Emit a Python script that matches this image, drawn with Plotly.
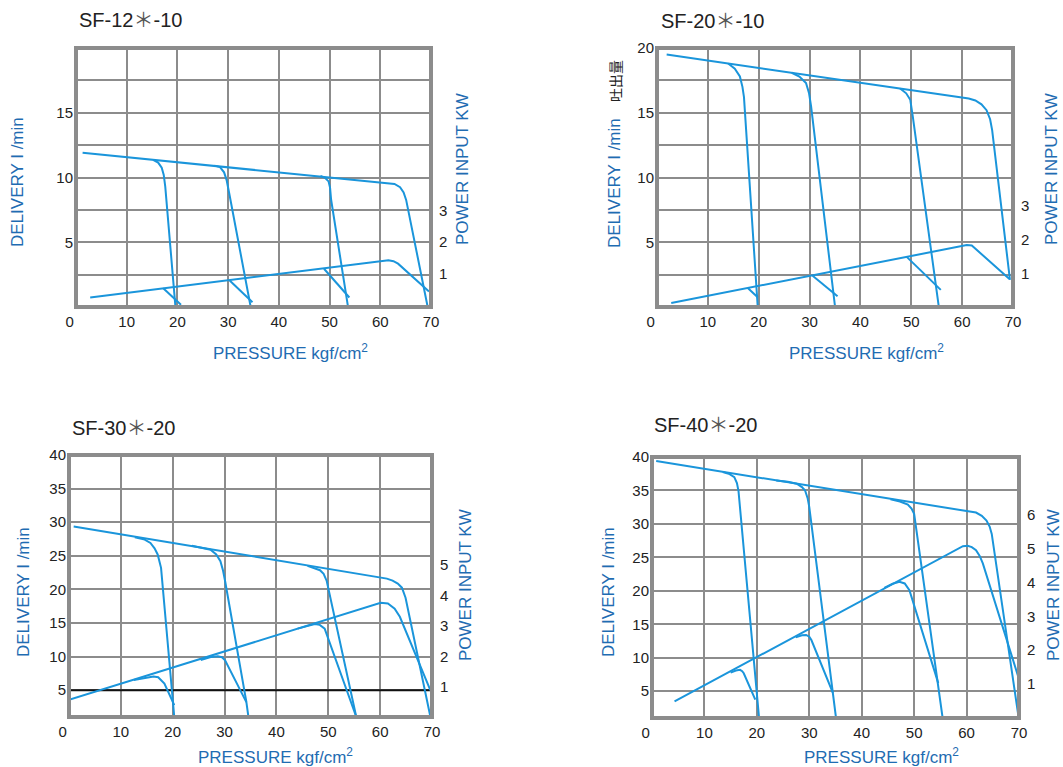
import plotly.graph_objects as go

W, H = 1063, 767

# ------------------------------------------------------------------ data
PRESSURE_TICKS = [0, 10, 20, 30, 40, 50, 60, 70]
PRESSURE_LABELS = ["0\u00a0\u00a0\u00a0", "10", "20", "30", "40", "50", "60", "70"]
TITLES = ["SF-12＊-10", "SF-20＊-10", "SF-30＊-20", "SF-40＊-20"]

# SF-12*-10  (delivery l/min, power kW)
SF12_DELIV_X = [
    [1.3, 61.4, 62.8, 63.9, 64.6, 65.1, 69.3],
    [15.2, 16.2, 16.9, 17.3, 17.6, 19.6],
    [27.3, 28.4, 29.2, 29.7, 30.2, 34.4],
    [48.2, 49.1, 49.8, 50.1, 50.3, 53.6],
]
SF12_DELIV_Y = [
    [11.91, 9.6, 9.5, 9.25, 8.85, 8.27, 0.1],
    [11.36, 11.15, 10.75, 10.2, 9.3, 0.05],
    [10.92, 10.8, 10.4, 9.8, 8.8, 0.1],
    [10.12, 9.98, 9.7, 9.2, 8.3, 0.1],
]
SF12_POWER_X = [
    [2.8, 60.6, 61.6, 62.6, 63.5, 69.6],
    [17.2, 20.7],
    [30.3, 34.8],
    [48.9, 53.9],
]
SF12_POWER_Y = [
    [0.25, 1.41, 1.43, 1.40, 1.32, 0.44],
    [0.54, 0.02],
    [0.79, 0.10],
    [1.16, 0.25],
]

# SF-20*-10
SF20_DELIV_X = [
    [1.9, 61.3, 62.6, 63.8, 64.8, 65.5, 65.9, 69.4],
    [14.0, 15.3, 16.3, 16.8, 17.1, 19.8],
    [26.5, 28.0, 29.3, 29.9, 30.3, 35.0],
    [47.8, 49.0, 49.8, 50.1, 50.3, 55.4],
]
SF20_DELIV_Y = [
    [19.49, 16.1, 15.95, 15.65, 15.2, 14.5, 13.66, 2.1],
    [18.8, 18.4, 17.8, 17.0, 16.2, 0.05],
    [18.09, 17.8, 17.3, 16.5, 15.5, 0.05],
    [16.87, 16.5, 16.0, 15.4, 14.7, 0.05],
]
SF20_POWER_X = [
    [2.8, 60.0, 60.9, 61.9, 69.3],
    [17.9, 19.8],
    [30.6, 35.5],
    [49.1, 55.8],
]
SF20_POWER_Y = [
    [0.12, 1.81, 1.84, 1.83, 0.83],
    [0.56, 0.29],
    [0.93, 0.32],
    [1.49, 0.51],
]

# SF-30*-20
SF30_DELIV_X = [
    [0.9, 60.1, 61.3, 62.4, 63.4, 64.2, 64.6, 64.9, 69.7],
    [12.7, 14.6, 15.7, 16.5, 17.1, 17.5, 17.75, 20.1, 20.3],
    [23.7, 25.8, 27.3, 28.4, 29.2, 29.7, 30.1, 34.2, 34.6],
    [46.0, 47.5, 48.4, 49.1, 49.5, 49.7, 55.4],
]
SF30_DELIV_Y = [
    [29.35, 21.75, 21.6, 21.3, 20.85, 20.25, 19.5, 18.75, 1.0],
    [27.75, 27.4, 26.9, 26.1, 25.2, 24.0, 23.2, 2.75, 1.0],
    [26.5, 26.2, 25.9, 25.2, 24.2, 22.8, 21.25, 3.25, 1.0],
    [23.5, 23.15, 22.85, 22.3, 21.6, 21.25, 1.0],
]
SF30_POWER_X = [
    [0.0, 58.5, 60.1, 61.5, 62.8, 63.8, 69.7],
    [12.5, 15.0, 16.3, 17.2, 17.8, 18.4, 20.3],
    [25.4, 27.5, 28.7, 29.5, 30.1, 34.2],
    [44.1, 46.3, 47.4, 48.3, 48.9, 49.3, 55.3],
]
SF30_POWER_Y = [
    [0.57, 3.68, 3.76, 3.74, 3.57, 3.30, 0.88],
    [1.22, 1.30, 1.33, 1.31, 1.22, 1.10, 0.39],
    [1.88, 1.98, 2.00, 1.97, 1.87, 0.49],
    [2.91, 3.02, 3.06, 3.04, 2.97, 2.91, 0.05],
]
SF30_LIMIT_X = [0, 70]
SF30_LIMIT_Y = [5, 5]

# SF-40*-20
SF40_DELIV_X = [
    [0.8, 60.0, 61.0, 61.8, 62.9, 63.8, 64.4, 64.8, 69.9],
    [13.5, 14.8, 15.7, 16.2, 16.5, 20.4],
    [23.7, 25.9, 27.6, 28.6, 29.2, 29.7, 30.0, 35.1],
    [45.5, 47.3, 48.8, 49.5, 50.0, 55.4],
]
SF40_DELIV_Y = [
    [39.4, 32.0, 31.85, 31.7, 31.2, 30.5, 29.6, 28.5, 1.2],
    [37.75, 37.45, 37.0, 36.1, 34.9, 1.2],
    [36.5, 36.3, 36.0, 35.5, 35.0, 33.8, 32.5, 1.0],
    [33.7, 33.35, 32.9, 32.3, 31.5, 1.2],
]
SF40_POWER_X = [
    [4.3, 58.3, 59.3, 60.2, 61.0, 61.8, 62.5, 63.1, 69.8],
    [15.0, 16.0, 16.8, 17.2, 17.5, 19.7],
    [27.4, 28.6, 29.4, 30.0, 30.4, 34.5],
    [44.3, 45.9, 47.2, 48.2, 49.1, 54.6],
]
SF40_POWER_Y = [
    [0.49, 5.00, 5.07, 5.08, 5.04, 4.95, 4.78, 4.56, 1.25],
    [1.34, 1.40, 1.42, 1.38, 1.32, 0.54],
    [2.38, 2.44, 2.45, 2.40, 2.30, 0.74],
    [3.84, 3.96, 4.02, 3.97, 3.77, 1.03],
]

# ------------------------------------------------------------------ style
CURVE = "#1a95db"
LABEL_BLUE = "#1f6cb2"
GRID = "#8c8c8c"
TXT = "#222222"
FONT = "Liberation Sans, Arial, Noto Sans CJK JP, sans-serif"


def px_x(p):
    return p / W


def px_y(p):
    return 1 - p / H


def title_text(t):
    return t.replace("＊", "<span style=\"color:#555555\">＊</span>")


panels = [
    dict(title=TITLES[0], box=(76, 431, 48, 307),
         dx=SF12_DELIV_X, dy=SF12_DELIV_Y, px=SF12_POWER_X, py=SF12_POWER_Y,
         yrange=[0, 20], yvals=[5, 10, 15], ytext=["5", "10", "15"], ydt=2.5,
         y2range=[-0.05, 8.14], y2vals=[1, 2, 3],
         title_xy=(130, 20), deliv_xy=(17, 182), power_xy=(463, 169),
         press_xy=(290, 352)),
    dict(title=TITLES[1], box=(657, 1013, 48, 307),
         dx=SF20_DELIV_X, dy=SF20_DELIV_Y, px=SF20_POWER_X, py=SF20_POWER_Y,
         yrange=[0, 20], yvals=[5, 10, 15, 20], ytext=["5", "10", "15", "20"],
         ydt=2.5, y2range=[0, 7.7], y2vals=[1, 2, 3],
         title_xy=(712, 21), deliv_xy=(614, 183), power_xy=(1052, 169),
         press_xy=(866, 352)),
    dict(title=TITLES[2], box=(69, 432, 455, 717),
         dx=SF30_DELIV_X, dy=SF30_DELIV_Y, px=SF30_POWER_X, py=SF30_POWER_Y,
         yrange=[1, 40], yvals=[5, 10, 15, 20, 25, 30, 35, 40],
         ytext=["5", "10", "15", "20", "25", "30", "35", "40"], ydt=5,
         y2range=[0, 8.63], y2vals=[1, 2, 3, 4, 5],
         title_xy=(123, 428), deliv_xy=(23, 592), power_xy=(465, 585),
         press_xy=(275, 756)),
    dict(title=TITLES[3], box=(652, 1019, 457, 718),
         dx=SF40_DELIV_X, dy=SF40_DELIV_Y, px=SF40_POWER_X, py=SF40_POWER_Y,
         yrange=[1, 40], yvals=[5, 10, 15, 20, 25, 30, 35, 40],
         ytext=["5", "10", "15", "20", "25", "30", "35", "40"], ydt=5,
         y2range=[0, 7.7], y2vals=[1, 2, 3, 4, 5, 6],
         title_xy=(705, 425), deliv_xy=(608, 592), power_xy=(1053, 585),
         press_xy=(881, 756)),
]

fig = go.Figure()
layout = {}
annotations = []
shapes = []

for i, p in enumerate(panels):
    xn = "" if i == 0 else str(i + 1)
    yn = "" if i == 0 else str(2 * i + 1)
    y2n = str(2 * i + 2)
    x0, x1, ytop, ybot = p["box"]

    layout["xaxis" + xn] = dict(
        domain=[px_x(x0), px_x(x1)], range=[0, 70], anchor="y" + yn,
        tickvals=PRESSURE_TICKS, ticktext=PRESSURE_LABELS,
        showgrid=True, gridcolor=GRID, gridwidth=2, zeroline=False,
        showline=False, ticks="", ticklabelstandoff=4, automargin=False,
        tickfont=dict(size=15, color=TXT, family=FONT), fixedrange=True,
    )
    layout["yaxis" + yn] = dict(
        domain=[px_y(ybot), px_y(ytop)], range=p["yrange"], anchor="x" + xn,
        tickvals=p["yvals"], ticktext=p["ytext"],
        showgrid=True, gridcolor=GRID, gridwidth=2, zeroline=False,
        minor=dict(dtick=p["ydt"], tick0=0, showgrid=True, gridcolor=GRID,
                   gridwidth=2, ticks=""),
        showline=False, ticks="", ticklabelstandoff=2, automargin=False,
        tickfont=dict(size=15, color=TXT, family=FONT), fixedrange=True,
    )
    layout["yaxis" + y2n] = dict(
        domain=[px_y(ybot), px_y(ytop)], range=p["y2range"],
        overlaying="y" + yn, side="right", anchor="x" + xn,
        tickvals=p["y2vals"], ticktext=[str(v) for v in p["y2vals"]],
        showgrid=False, zeroline=False, showline=False, ticks="",
        ticklabelstandoff=7, automargin=False,
        tickfont=dict(size=15, color=TXT, family=FONT), fixedrange=True,
    )

    # plot frame, centred on the domain edges
    shapes.append(dict(
        type="rect", xref="x" + xn + " domain", yref="y" + yn + " domain",
        x0=0, x1=1, y0=0, y1=1, line=dict(color=GRID, width=4),
        fillcolor="rgba(0,0,0,0)", layer="above"))

    if i == 2:
        fig.add_trace(go.Scatter(
            x=SF30_LIMIT_X, y=SF30_LIMIT_Y, mode="lines",
            line=dict(color="#111111", width=2),
            xaxis="x" + xn, yaxis="y" + yn, showlegend=False, hoverinfo="skip"))

    for xs, ys in zip(p["dx"], p["dy"]):
        fig.add_trace(go.Scatter(
            x=xs, y=ys, mode="lines", line=dict(color=CURVE, width=2),
            xaxis="x" + xn, yaxis="y" + yn, showlegend=False, hoverinfo="skip"))
    for xs, ys in zip(p["px"], p["py"]):
        fig.add_trace(go.Scatter(
            x=xs, y=ys, mode="lines", line=dict(color=CURVE, width=2),
            xaxis="x" + xn, yaxis="y" + y2n, showlegend=False, hoverinfo="skip"))

    tx, ty = p["title_xy"]
    annotations.append(dict(
        text=title_text(p["title"]), x=px_x(tx), y=px_y(ty), xref="paper",
        yref="paper", xanchor="center", yanchor="middle", showarrow=False,
        font=dict(size=20, color=TXT, family=FONT)))
    dxp, dyp = p["deliv_xy"]
    annotations.append(dict(
        text="DELIVERY I /min", x=px_x(dxp), y=px_y(dyp), xref="paper",
        yref="paper", xanchor="center", yanchor="middle", showarrow=False,
        textangle=-90, font=dict(size=17, color=LABEL_BLUE, family=FONT)))
    pxp, pyp = p["power_xy"]
    annotations.append(dict(
        text="POWER INPUT KW", x=px_x(pxp), y=px_y(pyp), xref="paper",
        yref="paper", xanchor="center", yanchor="middle", showarrow=False,
        textangle=-90, font=dict(size=17, color=LABEL_BLUE, family=FONT)))
    sx, sy = p["press_xy"]
    annotations.append(dict(
        text="PRESSURE kgf/cm<sup>2</sup>", x=px_x(sx), y=px_y(sy),
        xref="paper", yref="paper", xanchor="center", yanchor="middle",
        showarrow=False, font=dict(size=17, color=LABEL_BLUE, family=FONT)))

annotations.append(dict(
    text="吐出量", x=px_x(615), y=px_y(81), xref="paper", yref="paper",
    xanchor="center", yanchor="middle", showarrow=False, textangle=-90,
    font=dict(size=14, color=TXT, family="Noto Sans CJK JP")))

fig.update_layout(
    width=W, height=H, margin=dict(l=0, r=0, t=0, b=0, autoexpand=False),
    paper_bgcolor="white", plot_bgcolor="white",
    font=dict(family=FONT), annotations=annotations, shapes=shapes,
    showlegend=False, **layout,
)

fig.write_html(
    "out.html", config={"displayModeBar": False},
    post_script=(
        "var gd=document.getElementById('{plot_id}');"
        "gd.style.position='absolute';gd.style.left='0px';gd.style.top='0px';"
        "document.body.style.margin='0';"
        "document.body.style.overflow='hidden';"
    ),
)
